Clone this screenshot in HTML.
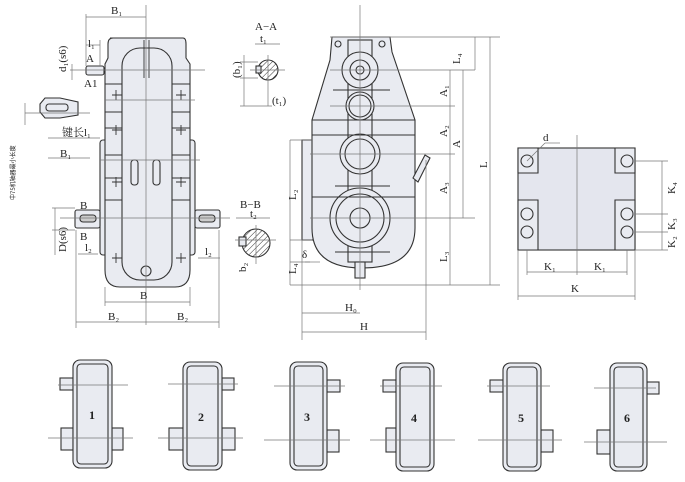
<!DOCTYPE html>
<html><head><meta charset="utf-8"><style>
html,body{margin:0;padding:0;background:#fff;}
svg{display:block;}
text{font-family:"Liberation Serif","Noto Serif CJK SC",serif;fill:#222;}
</style></head><body>
<svg width="685" height="482" viewBox="0 0 685 482" xmlns="http://www.w3.org/2000/svg">
<defs>
<pattern id="h" width="4" height="4" patternUnits="userSpaceOnUse" patternTransform="rotate(45)"><line x1="0" y1="0" x2="0" y2="4" stroke="#333" stroke-width="1"/></pattern>
</defs>
<g stroke="#333" stroke-width="1.1" fill="#e9ebf1">
<rect x="100" y="140" width="95" height="115" rx="3"/>
<path d="M110 38 H183 Q186 38 186 44 V58 L190 64 V270 Q190 287 175 287 H120 Q105 287 105 270 V64 L108 58 V44 Q108 38 113 38 Z"/>
<rect x="122" y="48" width="50" height="232" rx="18"/>
<rect x="75" y="210" width="25" height="18" rx="2"/>
<rect x="195" y="210" width="25" height="18" rx="2"/>
<rect x="86" y="66" width="18" height="9" rx="2"/>
<rect x="80" y="215" width="16" height="7" rx="3" fill="#ccc"/>
<rect x="199" y="215" width="16" height="7" rx="3" fill="#ccc"/>
<circle cx="146" cy="271" r="5"/>
<rect x="131" y="160" width="7" height="25" rx="3"/>
<rect x="153" y="160" width="7" height="25" rx="3"/>
<path d="M40 104 L45 98 H60 L78 102 V115 L60 118 H45 L40 112 Z"/>
<rect x="46" y="104" width="22" height="7" rx="3"/>
<circle cx="268" cy="70" r="10" fill="url(#h)"/>
<rect x="256" y="66" width="5" height="7" fill="#e9ebf1"/>
<circle cx="256" cy="243" r="14" fill="url(#h)"/>
<rect x="239" y="237" width="7" height="9" fill="#e9ebf1"/>
<rect x="302" y="140" width="12" height="100"/>
<path d="M332 37 H390 L392 52 L415 120 V228 Q415 268 362 268 Q312 268 312 228 V120 L330 60 Z"/>
<rect x="348" y="40" width="24" height="222"/>
<circle cx="338" cy="44" r="3"/><circle cx="382" cy="44" r="3"/>
<circle cx="360" cy="70" r="18"/><circle cx="360" cy="70" r="10"/><circle cx="360" cy="70" r="4"/>
<circle cx="360" cy="106" r="14"/><circle cx="360" cy="106" r="11"/>
<circle cx="360" cy="154" r="20"/><circle cx="360" cy="154" r="15"/>
<circle cx="360" cy="218" r="30"/><circle cx="360" cy="218" r="24"/><circle cx="360" cy="218" r="10"/>
<rect x="355" y="262" width="10" height="16"/>
<path d="M413 178 L425 155 L430 158 L418 182 Z"/>
<rect x="518" y="148" width="117" height="102" fill="#e4e6ee"/>
<path d="M518 148 H538 V173 H518 Z M615 148 H635 V173 H615 Z M518 200 H538 V250 H518 Z M615 200 H635 V250 H615 Z" fill="#e9ebf1"/>
<circle cx="527" cy="161" r="6"/><circle cx="627" cy="161" r="6"/>
<circle cx="527" cy="214" r="6"/><circle cx="527" cy="232" r="6"/>
<circle cx="627" cy="214" r="6"/><circle cx="627" cy="232" r="6"/>
<g>
<rect x="60" y="378" width="13" height="12"/><rect x="61" y="428" width="12" height="22"/><rect x="112" y="428" width="11" height="22"/>
<rect x="73" y="360" width="39" height="108" rx="7"/><rect x="77" y="364" width="31" height="100" rx="4"/>
</g>
<g>
<rect x="222" y="378" width="12" height="12"/><rect x="169" y="428" width="14" height="22"/><rect x="222" y="428" width="13" height="22"/>
<rect x="183" y="362" width="39" height="108" rx="7"/><rect x="187" y="366" width="31" height="100" rx="4"/>
</g>
<g>
<rect x="327" y="380" width="13" height="12"/><rect x="327" y="430" width="12" height="22"/>
<rect x="290" y="362" width="37" height="108" rx="7"/><rect x="294" y="366" width="29" height="100" rx="4"/>
</g>
<g>
<rect x="383" y="380" width="13" height="12"/><rect x="386" y="428" width="10" height="24"/>
<rect x="396" y="363" width="38" height="108" rx="7"/><rect x="400" y="367" width="30" height="100" rx="4"/>
</g>
<g>
<rect x="490" y="380" width="13" height="12"/><rect x="541" y="430" width="12" height="22"/>
<rect x="503" y="363" width="38" height="108" rx="7"/><rect x="507" y="367" width="30" height="100" rx="4"/>
</g>
<g>
<rect x="647" y="382" width="12" height="12"/><rect x="597" y="430" width="13" height="24"/>
<rect x="610" y="363" width="37" height="108" rx="7"/><rect x="614" y="367" width="29" height="100" rx="4"/>
</g>
</g>
<!-- body detail lines -->
<g stroke="#333" stroke-width="0.9" fill="none">
<path d="M105 84 H122 M172 84 H190 M105 112 H122 M172 112 H190 M105 128 H122 M172 128 H190 M105 155 H122 M172 155 H190 M105 178 H122 M172 178 H190 M105 200 H122 M172 200 H190"/>
<path d="M112 95 H122 M116 90 V100 M176 95 H186 M181 90 V100 M112 130 H122 M116 125 V135 M176 130 H186 M181 125 V135 M112 182 H122 M116 177 V187 M176 182 H186 M181 177 V187 M112 258 H122 M116 253 V263 M176 258 H186 M181 253 V263"/>
<path d="M144 40 V78 M149 40 V78"/>
<path d="M312 120 H415 M312 135 H415 M312 197 H415 M333 90 H390 M335 186 H390 M335 252 H390"/>
</g>
<g stroke="#777" stroke-width="0.7" fill="none">
<line x1="146" y1="5" x2="146" y2="325"/>
<line x1="86" y1="17" x2="146" y2="17"/><line x1="86" y1="14" x2="86" y2="66"/>
<line x1="86" y1="45" x2="100" y2="45"/><line x1="100" y1="40" x2="100" y2="66"/>
<line x1="70" y1="70" x2="205" y2="70"/><line x1="25" y1="113" x2="90" y2="113"/>
<line x1="72" y1="64" x2="72" y2="80"/>
<line x1="25" y1="103" x2="25" y2="125"/>
<line x1="48" y1="138" x2="100" y2="138"/><line x1="48" y1="158" x2="90" y2="158"/>
<line x1="60" y1="218" x2="230" y2="218"/>
<line x1="52" y1="208" x2="75" y2="208"/><line x1="52" y1="230" x2="75" y2="230"/><line x1="55" y1="208" x2="55" y2="255"/>
<line x1="78" y1="254" x2="98" y2="254"/><line x1="198" y1="258" x2="220" y2="258"/>
<line x1="105" y1="302" x2="190" y2="302"/><line x1="76" y1="322" x2="219" y2="322"/>
<line x1="76" y1="230" x2="76" y2="328"/><line x1="219" y1="230" x2="219" y2="328"/>
<line x1="105" y1="287" x2="105" y2="306"/><line x1="190" y1="287" x2="190" y2="306"/>
<line x1="105" y1="100" x2="195" y2="100"/><line x1="100" y1="160" x2="200" y2="160"/>
<line x1="250" y1="70" x2="285" y2="70"/><line x1="268" y1="55" x2="268" y2="106"/>
<line x1="240" y1="62" x2="258" y2="62"/><line x1="240" y1="78" x2="258" y2="78"/><line x1="244" y1="55" x2="244" y2="106"/>
<line x1="255" y1="44" x2="280" y2="44"/><line x1="240" y1="106" x2="272" y2="106"/>
<line x1="235" y1="240" x2="276" y2="240"/><line x1="236" y1="218" x2="270" y2="218"/><line x1="256" y1="225" x2="256" y2="264"/>
<line x1="360" y1="5" x2="360" y2="290"/>
<line x1="330" y1="37" x2="500" y2="37"/><line x1="330" y1="70" x2="475" y2="70"/>
<line x1="330" y1="106" x2="455" y2="106"/><line x1="310" y1="154" x2="455" y2="154"/>
<line x1="310" y1="218" x2="475" y2="218"/><line x1="290" y1="285" x2="500" y2="285"/>
<line x1="290" y1="140" x2="312" y2="140"/><line x1="290" y1="240" x2="312" y2="240"/>
<line x1="290" y1="140" x2="290" y2="285"/><line x1="290" y1="262" x2="310" y2="262"/>
<line x1="305" y1="262" x2="320" y2="262"/>
<line x1="302" y1="240" x2="302" y2="340"/><line x1="426" y1="160" x2="426" y2="340"/>
<line x1="302" y1="313" x2="360" y2="313"/><line x1="302" y1="332" x2="426" y2="332"/>
<line x1="450" y1="70" x2="450" y2="285"/><line x1="463" y1="70" x2="463" y2="218"/>
<line x1="490" y1="37" x2="490" y2="285"/><line x1="475" y1="37" x2="475" y2="70"/>
<line x1="577" y1="135" x2="577" y2="275"/>
<line x1="635" y1="161" x2="668" y2="161"/><line x1="635" y1="214" x2="668" y2="214"/><line x1="635" y1="232" x2="668" y2="232"/><line x1="635" y1="250" x2="668" y2="250"/>
<line x1="662" y1="161" x2="662" y2="250"/>
<line x1="527" y1="250" x2="527" y2="275"/><line x1="627" y1="250" x2="627" y2="275"/>
<line x1="527" y1="272" x2="627" y2="272"/>
<line x1="518" y1="250" x2="518" y2="300"/><line x1="635" y1="250" x2="635" y2="300"/>
<line x1="518" y1="296" x2="635" y2="296"/>
<line x1="527" y1="161" x2="545" y2="143"/><line x1="545" y1="143" x2="560" y2="143"/>
<line x1="58" y1="385" x2="128" y2="385"/><line x1="48" y1="438" x2="133" y2="438"/>
<line x1="168" y1="384" x2="238" y2="384"/><line x1="158" y1="438" x2="243" y2="438"/>
<line x1="274" y1="386" x2="345" y2="386"/><line x1="264" y1="440" x2="350" y2="440"/>
<line x1="380" y1="386" x2="442" y2="386"/><line x1="370" y1="440" x2="455" y2="440"/>
<line x1="487" y1="386" x2="550" y2="386"/><line x1="478" y1="440" x2="562" y2="440"/>
<line x1="594" y1="388" x2="656" y2="388"/><line x1="584" y1="442" x2="667" y2="442"/>
</g>
<g font-size="11">
<text x="111" y="14">B₁</text>
<text x="88" y="47">l₁</text>
<text x="86" y="62">A</text><text x="84" y="87">A1</text>
<text x="62" y="136">键长l₁</text>
<text x="60" y="157">B₁</text>
<text x="80" y="209">B</text><text x="80" y="240">B</text>
<text x="85" y="251">l₂</text><text x="205" y="255">l₂</text>
<text x="140" y="299">B</text>
<text x="108" y="320">B₂</text><text x="177" y="320">B₂</text>
<text x="255" y="30">A−A</text><text x="260" y="42">t₁</text><text x="272" y="104">(t₁)</text>
<text x="240" y="208">B−B</text><text x="250" y="217">t₂</text>
<text x="345" y="311">H₀</text><text x="360" y="330">H</text>
<text x="543" y="141">d</text>
<text x="544" y="270">K₁</text><text x="594" y="270">K₁</text>
<text x="571" y="292">K</text>
</g>
<g font-size="11">
<text transform="translate(66,72) rotate(-90)">d₁(s6)</text>
<text transform="translate(66,252) rotate(-90)">D(s6)</text>
<text transform="translate(240,78) rotate(-90)">(b₁)</text>
<text transform="translate(246,272) rotate(-90)">b₂</text>
<text transform="translate(296,200) rotate(-90)">L₂</text>
<text transform="translate(296,274) rotate(-90)">L₄</text>
<text transform="translate(460,64) rotate(-90)">L₄</text>
<text transform="translate(447,97) rotate(-90)">A₁</text>
<text transform="translate(447,137) rotate(-90)">A₂</text>
<text transform="translate(460,148) rotate(-90)">A</text>
<text transform="translate(447,194) rotate(-90)">A₃</text>
<text transform="translate(447,262) rotate(-90)">L₃</text>
<text transform="translate(487,168) rotate(-90)">L</text>
<text transform="translate(675,194) rotate(-90)">K₄</text>
<text transform="translate(675,230) rotate(-90)">K₃</text>
<text transform="translate(675,248) rotate(-90)">K₂</text>
<text x="302" y="258">δ</text>
</g>
<text transform="translate(15,200) rotate(-90)" font-size="6" style="font-family:'Noto Sans CJK SC',sans-serif">中75机轴器最小长度</text>
<g font-size="12" font-weight="bold">
<text x="89" y="419">1</text><text x="198" y="421">2</text><text x="304" y="421">3</text>
<text x="411" y="422">4</text><text x="518" y="422">5</text><text x="624" y="422">6</text>
</g>
</svg>
</body></html>
